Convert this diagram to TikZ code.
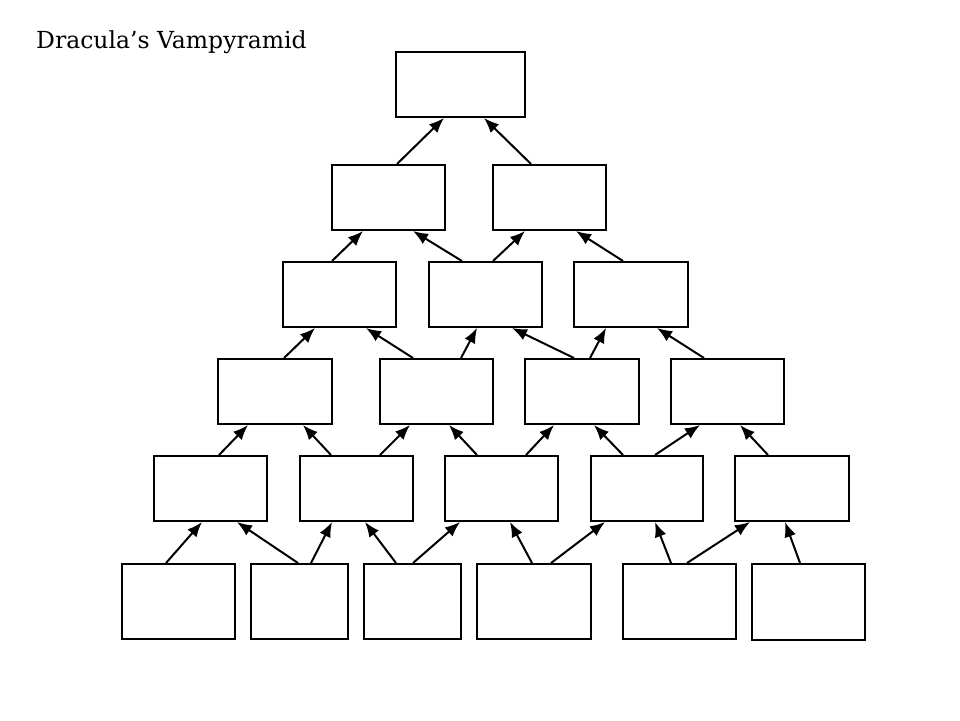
\documentclass[tikz,border=0pt]{standalone}
\usepackage{fontspec}
\setmainfont{DejaVu Serif}
\usetikzlibrary{arrows.meta}
\newcommand{\bx}[5]{\node[vbox, minimum width={(#4-#2)*1pt}, minimum height={(#5-#3)*1pt}] (#1) at ({(#2+#4)/2},{(#3+#5)/2}) {};}
\newcommand{\arr}[4]{\draw[varrow] (#2,0 |- #1.north) -- (#4,0 |- #3.south);}
\begin{document}
\begin{tikzpicture}[x=1pt,y=-1pt,
  vbox/.style={draw=black, line width=2pt, fill=white, inner sep=0pt, rectangle},
  varrow/.style={line width=2pt, -{Latex[length=15pt,width=12pt]}}]
\useasboundingbox[fill=white] (0,0) rectangle (960,720);
\node[anchor=base west, inner sep=0pt, font=\fontsize{23.5}{28}\selectfont] (title) at (36,48) {Dracula’s Vampyramid};
% row 0
\bx{t}{396}{52}{525}{117}
% row 1
\bx{a1}{332}{165}{445}{230}
\bx{a2}{493}{165}{606}{230}
% row 2
\bx{b1}{283}{262}{396}{327}
\bx{b2}{429}{262}{542}{327}
\bx{b3}{574}{262}{688}{327}
% row 3
\bx{c1}{218}{359}{332}{424}
\bx{c2}{380}{359}{493}{424}
\bx{c3}{525}{359}{639}{424}
\bx{c4}{671}{359}{784}{424}
% row 4
\bx{d1}{154}{456}{267}{521}
\bx{d2}{300}{456}{413}{521}
\bx{d3}{445}{456}{558}{521}
\bx{d4}{591}{456}{703}{521}
\bx{d5}{735}{456}{849}{521}
% row 5
\bx{e1}{122}{564}{235}{639}
\bx{e2}{251}{564}{348}{639}
\bx{e3}{364}{564}{461}{639}
\bx{e4}{477}{564}{591}{639}
\bx{e5}{623}{564}{736}{639}
\bx{e6}{752}{564}{865}{640}
% arrows
\arr{a1}{397}{t}{444}
\arr{a2}{531}{t}{484}
\arr{b1}{332}{a1}{363}
\arr{b2}{462}{a1}{413}
\arr{b2}{493}{a2}{525}
\arr{b3}{623}{a2}{576}
\arr{c1}{284}{b1}{315}
\arr{c2}{413}{b1}{366}
\arr{c2}{461}{b2}{477}
\arr{c3}{574}{b2}{512}
\arr{c3}{590}{b3}{606}
\arr{c4}{704}{b3}{657}
\arr{d1}{219}{c1}{248}
\arr{d2}{331}{c1}{303}
\arr{d2}{380}{c2}{410}
\arr{d3}{477}{c2}{449}
\arr{d3}{526}{c3}{554}
\arr{d4}{623}{c3}{594}
\arr{d4}{655}{c4}{700}
\arr{d5}{768}{c4}{740}
\arr{e1}{166}{d1}{202}
\arr{e2}{298}{d1}{237}
\arr{e2}{311}{d2}{332}
\arr{e3}{396}{d2}{365}
\arr{e3}{413}{d3}{460}
\arr{e4}{532}{d3}{510}
\arr{e4}{551}{d4}{605}
\arr{e5}{671}{d4}{655}
\arr{e5}{687}{d5}{750}
\arr{e6}{800}{d5}{785}
\end{tikzpicture}
\end{document}
